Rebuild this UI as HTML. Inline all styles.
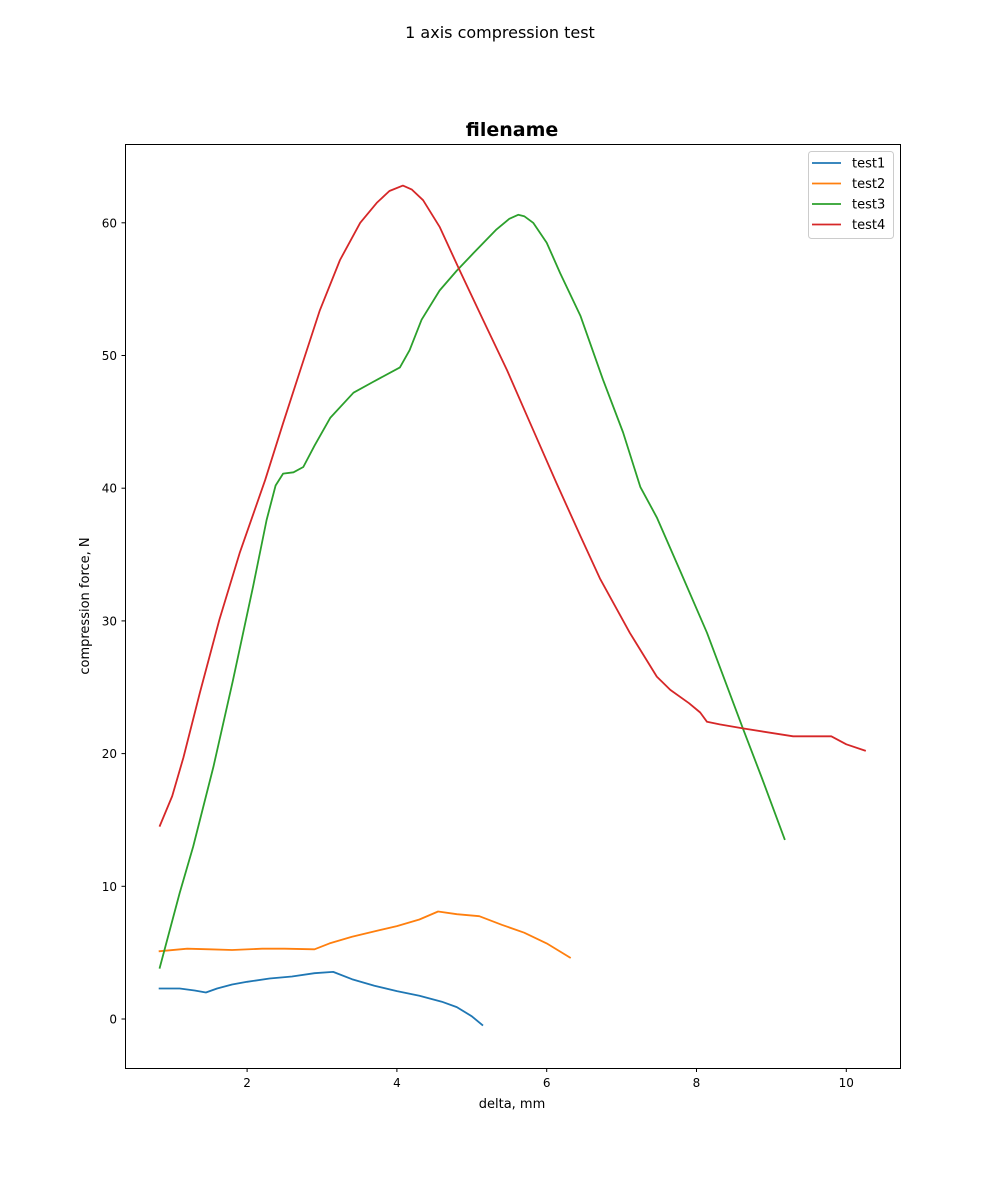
<!DOCTYPE html>
<html><head><meta charset="utf-8">
<style>body{margin:0;background:#fff}svg{display:block;font-family:"DejaVu Sans","Liberation Sans",sans-serif}</style>
</head><body>
<svg id="chart" width="1000" height="1200" xmlns="http://www.w3.org/2000/svg">
<rect width="1000" height="1200" fill="#fff"/>
<text x="500" y="38" text-anchor="middle" font-size="16">1 axis compression test</text>
<text x="512" y="136" text-anchor="middle" font-size="19" font-weight="bold">filename</text>
<g id="marks"></g>
<rect x="125.5" y="144.5" width="775" height="924" fill="none" stroke="#000" stroke-width="1"/>
<g id="axes"></g>
<text x="512" y="1108" text-anchor="middle" font-size="13">delta, mm</text>
<text transform="translate(89,606) rotate(-90)" text-anchor="middle" font-size="13">compression force, N</text>
<g>
<rect x="808.5" y="151.5" width="85" height="87" rx="3" fill="#fff" fill-opacity="0.8" stroke="#ccc"/>
</g>
</svg>
<script>
const xTicks=[2,4,6,8,10];
const yTicks=[0,10,20,30,40,50,60];
const seriesNames=["test1","test2","test3","test4"];
const seriesColors=["#1f77b4","#ff7f0e","#2ca02c","#d62728"];
const test1X=[0.82,1.1,1.3,1.45,1.6,1.8,2.0,2.3,2.6,2.9,3.15,3.4,3.7,4.0,4.3,4.6,4.8,5.0,5.15];
const test1Y=[2.3,2.3,2.15,2.0,2.3,2.6,2.8,3.05,3.2,3.45,3.55,3.0,2.5,2.1,1.75,1.3,0.9,0.2,-0.5];
const test2X=[0.82,1.2,1.5,1.8,2.2,2.5,2.9,3.1,3.4,3.7,4.0,4.3,4.55,4.8,5.1,5.4,5.7,6.0,6.32];
const test2Y=[5.1,5.3,5.25,5.2,5.3,5.3,5.25,5.7,6.2,6.6,7.0,7.5,8.1,7.9,7.75,7.1,6.5,5.7,4.6];
const test3X=[0.83,1.1,1.28,1.55,1.81,2.08,2.26,2.38,2.48,2.62,2.75,2.9,3.11,3.42,3.68,4.04,4.17,4.33,4.57,4.8,5.02,5.33,5.5,5.62,5.7,5.82,6.0,6.18,6.45,6.75,7.02,7.25,7.47,7.78,8.14,8.62,8.87,9.18];
const test3Y=[3.8,9.5,13,19,25.5,32.6,37.6,40.2,41.1,41.2,41.6,43.2,45.3,47.2,48,49.1,50.4,52.7,54.9,56.4,57.7,59.5,60.3,60.6,60.5,60,58.5,56.2,53.0,48.2,44.2,40.1,37.8,33.8,29.1,21.9,18.2,13.5];
const test4X=[0.83,1.0,1.15,1.37,1.63,1.9,2.24,2.48,2.71,2.97,3.24,3.51,3.73,3.9,4.08,4.2,4.35,4.57,4.84,5.15,5.47,5.78,6.13,6.45,6.71,7.11,7.47,7.65,7.9,8.05,8.14,8.31,8.62,9.29,9.65,9.8,10.0,10.26];
const test4Y=[14.5,16.8,19.7,24.6,30.1,35.1,40.6,44.9,48.9,53.4,57.2,60,61.5,62.4,62.8,62.5,61.7,59.7,56.4,52.7,48.9,44.9,40.4,36.4,33.2,29.1,25.8,24.8,23.8,23.1,22.4,22.2,21.9,21.3,21.3,21.3,20.7,20.2];
const xs=[test1X,test2X,test3X,test4X], ys=[test1Y,test2Y,test3Y,test4Y];
const X=v=>97.3+v*74.9, Y=v=>1019-v*13.27;
const NS="http://www.w3.org/2000/svg";
const mk=(t,a,p)=>{const e=document.createElementNS(NS,t);for(const k in a)e.setAttribute(k,a[k]);p.appendChild(e);return e;};
const marks=document.getElementById('marks'), axes=document.getElementById('axes'), svg=document.getElementById('chart');
xTicks.forEach(t=>{
  const l=mk('line',{x1:X(t),x2:X(t),y1:1068.5,y2:1072,stroke:'#000'},axes);
  
  
  const tx=mk('text',{x:X(t),y:1087,'text-anchor':'middle','font-size':12},axes);tx.textContent=t;
  
  
});
yTicks.forEach(t=>{
  const l=mk('line',{x1:121.5,x2:125.5,y1:Y(t),y2:Y(t),stroke:'#000'},axes);
  
  
  const tx=mk('text',{x:117,y:Y(t)+4.5,'text-anchor':'end','font-size':12},axes);tx.textContent=t;
  
  
});
seriesNames.forEach((n,i)=>{
  const pts=xs[i].map((x,j)=>X(x).toFixed(1)+','+Y(ys[i][j]).toFixed(1)).join(' ');
  const p=mk('polyline',{points:pts,fill:'none',stroke:seriesColors[i],'stroke-width':1.8,'stroke-linejoin':'round'},marks);
  
  
  const ly=163+i*20.5;
  const ll=mk('line',{x1:812,x2:841,y1:ly,y2:ly,stroke:seriesColors[i],'stroke-width':1.8},svg);
  
  
  const lt=mk('text',{x:852,y:ly+4.5,'font-size':13},svg);lt.textContent=n;
  
  
});
</script>
</body></html>
